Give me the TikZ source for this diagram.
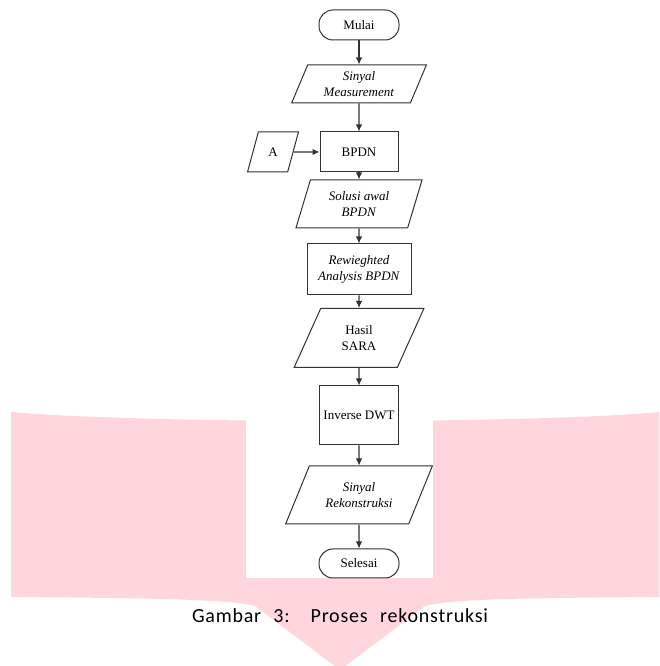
\documentclass[tikz,border=0pt]{standalone}
\usepackage{fontspec}
\setmainfont{Liberation Serif}
\newfontfamily\capfont[LetterSpace=4]{Carlito}
\usetikzlibrary{shapes,arrows,arrows.meta,positioning,calc}
\definecolor{banner}{RGB}{255,214,219}
\definecolor{linegray}{RGB}{50,50,50}
\tikzset{
term/.style = {draw=linegray, fill=white, rectangle, rounded corners=14pt, minimum height=30pt, minimum width=80pt, inner sep=0pt},
block/.style = {draw=linegray, fill=white, rectangle, align=center, inner sep=0pt},
io/.style = {draw=linegray, fill=white, trapezium, trapezium stretches=true, align=center, inner sep=0pt},
flow/.style = {draw=linegray, line width=1.1pt}
}
\begin{document}
\begin{tikzpicture}[x=1pt, y=1pt, auto, >={Latex[length=7pt,width=6.5pt]}, font=\fontsize{13}{15.5}\selectfont, line width=1pt]
		\useasboundingbox (0,0) rectangle (659,666);
		% background banner
		\fill[banner] (11,254) .. controls (150,242) and (530,242) .. (659,254) -- (659,69)
			.. controls (520,68) and (450,67) .. (425,60) -- (340,-4) -- (255,60)
			.. controls (230,67) and (140,68) .. (11,69) -- cycle;
		\fill[white] (246,88) rectangle (433,300);

		\node [term] (mulai) at (359,641) {Mulai};
		\node [io, below of=mulai, node distance=59pt, minimum width=135pt, minimum height=38pt, trapezium left angle=66, trapezium right angle=114] (sinyal) {\textit{Sinyal}\\\textit{Measurement}};
		\node [block, below of=sinyal, node distance=68pt, minimum width=78pt, minimum height=40pt] (bpdn) {BPDN};
		\node [io, left of=bpdn, node distance=86pt, minimum width=51pt, minimum height=40pt, trapezium left angle=68, trapezium right angle=112] (inA) {A};
		\node [io, below of=bpdn, node distance=52pt, minimum width=127pt, minimum height=48pt, trapezium left angle=70, trapezium right angle=110] (solusi) {\textit{Solusi awal}\\\textit{BPDN}};
		\node [block, below of=solusi, node distance=65.5pt, minimum width=104pt, minimum height=51pt] (reweight) {\textit{Rewieghted}\\\textit{Analysis BPDN}};
		\node [io, below of=reweight, node distance=68.5pt, minimum width=130pt, minimum height=59pt, trapezium left angle=64, trapezium right angle=116] (hasil) {Hasil\\SARA};
		\node [block, below of=hasil, node distance=77.5pt, minimum width=79pt, minimum height=59pt] (idwt) {Inverse DWT};
		\node [io, below of=idwt, node distance=79.5pt, minimum width=148pt, minimum height=58pt, trapezium left angle=57, trapezium right angle=123] (rekon) {\textit{Sinyal}\\\textit{Rekonstruksi}};
		\node [term, below of=rekon, node distance=68.5pt, minimum height=29pt] (selesai) {Selesai};

		\draw [flow,->] (mulai) -- (sinyal);
		\draw [flow,->] (sinyal) -- (bpdn);
		\draw [flow,->] (inA) -- (bpdn);
		\draw [flow,->] (bpdn) -- (solusi);
		\draw [flow,->] (solusi) -- (reweight);
		\draw [flow,->] (reweight) -- (hasil);
		\draw [flow,->] (hasil) -- (idwt);
		\draw [flow,->] (idwt) -- (rekon);
		\draw [flow,->] (rekon) -- (selesai);

		\node [font=\capfont\fontsize{20}{24}\selectfont] (caption) at (340,50) {\makebox[296pt][s]{Gambar 3: Proses rekonstruksi}};
\end{tikzpicture}
\end{document}
